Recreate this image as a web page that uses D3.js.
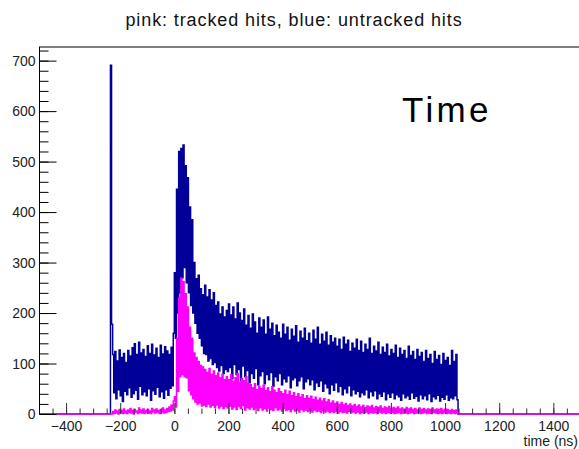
<!DOCTYPE html>
<html>
<head>
<meta charset="utf-8">
<script src="https://cdn.jsdelivr.net/npm/d3@7"></script>
<style>
  html, body { margin: 0; padding: 0; background: #fff; }
  svg { display: block; }
  text { font-family: "Liberation Sans", Arial, Helvetica, sans-serif; }
</style>
</head>
<body>
<svg id="chart" width="579" height="449"></svg>
<script>
// Histogram binning (ns)
const binLow = -236;
const binWidth = 4;
const timeRange = [-500, 1500];
const countRange = [0, 727];

// Untracked hits per bin (blue)
const untracked = [
  691, 178,
  118, 42, 124, 30, 105, 48, 127, 36, 112, 25,
  120, 45, 102, 38, 126, 52, 115, 33, 131, 40,
  139, 47, 118, 29, 142, 55, 121, 38, 128, 44,
  114, 36, 135, 50, 120, 27, 138, 46, 117, 39,
  130, 53, 112, 34, 136, 44, 119, 31, 133, 48,
  125, 37, 118, 51, 132, 56, 160,
  280, 150, 445, 200, 520, 240, 526, 270, 533, 290, 492, 260, 468, 240, 410, 215,
  385, 200, 300, 180, 268, 160, 275, 150, 248, 135, 236, 120, 255, 118, 232, 105,
  246, 110, 226, 98, 240, 102, 215, 92, 222, 85, 198, 96, 212, 80, 192, 88,
  205, 84, 218, 92, 196, 70, 212, 98, 188, 78, 220, 88, 200, 66, 185, 95,
  208, 74, 176, 86, 195, 62, 170, 80, 198, 71, 182, 90, 160, 58, 190, 76,
  172, 84, 186, 60, 158, 78, 192, 68, 168, 82, 180, 55, 155, 74, 176, 66,
  162, 80, 150, 58, 178, 70, 158, 64, 172, 76, 146, 52, 168, 68, 154, 72,
  175, 56, 142, 66, 164, 74, 150, 50, 170, 64, 145, 70, 160, 58, 140, 68,
  166, 48, 148, 62, 172, 55, 138, 66, 158, 45, 144, 60, 162, 52, 136, 40,
  155, 58, 142, 47, 150, 62, 134, 44, 148, 55, 128, 38, 152, 50, 138, 42,
  146, 56, 124, 36, 140, 48, 130, 40, 148, 45, 126, 34, 144, 42, 122, 38,
  138, 48, 128, 32, 150, 44, 120, 36, 134, 46, 125, 30, 142, 40, 118, 35,
  132, 44, 122, 28, 138, 40, 115, 33, 128, 42, 120, 30, 136, 38, 112, 34,
  130, 27, 118, 40, 126, 32, 110, 36, 134, 29, 116, 42, 124, 31, 108, 35,
  128, 26, 114, 38, 122, 30, 104, 36, 126, 28, 110, 40, 118, 25, 100, 34,
  124, 30, 108, 37, 116, 26, 98, 33, 120, 29, 106, 38, 112, 27, 96, 32,
  126, 30, 104, 36, 118, 28
];

// Tracked hits per bin (pink)
const tracked = [
  0, 0,
  5, 1, 8, 2, 6, 0, 9, 3, 7, 1,
  10, 2, 6, 1, 8, 3, 11, 2, 7, 0,
  9, 4, 6, 1, 12, 3, 8, 2, 10, 1,
  7, 3, 9, 2, 6, 1, 11, 4, 8, 2,
  10, 3, 7, 1, 9, 4, 12, 2, 8, 3,
  11, 5, 14, 6, 18, 8, 26,
  34, 14, 150, 45, 230, 74, 269, 78, 262, 74, 238, 72, 212, 46, 172, 38,
  150, 30, 121, 24, 112, 20, 104, 22, 96, 16, 93, 18, 88, 15, 82, 20,
  90, 14, 78, 17, 85, 13, 76, 18, 81, 12, 72, 16, 78, 11, 68, 15,
  74, 12, 68, 16, 78, 10, 65, 14, 72, 9, 80, 15, 63, 11, 70, 17,
  66, 8, 74, 13, 61, 10, 58, 14, 52, 9, 60, 12, 48, 7, 55, 13,
  50, 8, 57, 11, 46, 6, 52, 12, 44, 9, 54, 7, 47, 13, 42, 8,
  50, 10, 44, 6, 40, 11, 47, 7, 38, 9, 45, 5, 36, 10, 42, 6,
  34, 8, 40, 4, 33, 9, 38, 6, 30, 8, 36, 5, 31, 7, 35, 4,
  28, 8, 33, 5, 27, 6, 31, 3, 26, 7, 30, 4, 24, 6, 28, 3,
  22, 5, 26, 3, 21, 6, 24, 2, 19, 5, 23, 3, 18, 4, 21, 2,
  17, 5, 20, 3, 16, 4, 19, 2, 15, 4, 18, 1, 14, 3, 17, 2,
  13, 4, 16, 1, 14, 3, 17, 2, 12, 3, 15, 1, 13, 4, 16, 2,
  11, 3, 14, 1, 12, 3, 15, 2, 10, 3, 13, 1, 11, 2, 14, 3,
  10, 1, 12, 2, 9, 3, 13, 1, 10, 2, 12, 3, 9, 1, 11, 2,
  8, 3, 12, 1, 9, 2, 11, 3, 8, 1, 10, 2, 9, 1, 12, 3,
  8, 2, 10, 1, 9, 2, 11, 1, 8, 3, 10, 1, 9, 2, 7, 1,
  9, 2, 7, 1, 8, 2
];

// Axis ticks
const yTicks = [0, 100, 200, 300, 400, 500, 600, 700];
const yMinorTicks = d3.range(0, 721, 20);
const xTicks = [-400, -200, 0, 200, 400, 600, 800, 1000, 1200, 1400];
const xMinorTicks = d3.range(-450, 1500, 50);

const titleText = "pink: tracked hits, blue: untracked hits";
const xTitle = "time (ns)";
const panelLabel = "Time";

const svg = d3.select("#chart");
const padL = 39, padR = 580.4, padT = 47, padB = 414;

const x = d3.scaleLinear().domain(timeRange).range([padL, padR]);
const y = d3.scaleLinear().domain(countRange).range([padB, padT]);

svg.append("defs").append("clipPath").attr("id", "plotclip")
  .append("rect").attr("x", padL).attr("y", padT - 1)
  .attr("width", padR - padL).attr("height", padB - padT + 3);

// Step outline of a histogram, flat at zero outside its bins
function stepPoints(vals) {
  const pts = [[timeRange[0], 0], [binLow, 0]];
  vals.forEach((v, i) => {
    const a = binLow + i * binWidth;
    pts.push([a, v], [a + binWidth, v]);
  });
  pts.push([binLow + vals.length * binWidth, 0], [timeRange[1], 0]);
  return pts;
}
const line = d3.line().x(d => x(d[0])).y(d => y(d[1]));

const plot = svg.append("g").attr("clip-path", "url(#plotclip)");
plot.append("path").datum(stepPoints(untracked))
  .attr("d", line).attr("fill", "none")
  .attr("stroke", "#000099").attr("stroke-width", 1.5);
plot.append("path").datum(stepPoints(tracked))
  .attr("d", line).attr("fill", "none")
  .attr("stroke", "#ff00ff").attr("stroke-width", 1.5);

// Frame top edge
svg.append("line").attr("x1", padL).attr("x2", padR)
  .attr("y1", padT).attr("y2", padT)
  .attr("stroke", "#000").attr("stroke-width", 1);

const fmt = d3.format("d");

// Y axis
const yMinor = d3.axisLeft(y).tickValues(yMinorTicks).tickFormat("")
  .tickSizeInner(-9).tickSizeOuter(0);
const yMajor = d3.axisLeft(y).tickValues(yTicks).tickFormat(fmt)
  .tickSizeInner(-17).tickSizeOuter(0).tickPadding(4);
svg.append("g").attr("transform", `translate(${padL + 0.5},0)`).call(yMinor)
  .call(g => g.select(".domain").remove());
const gy = svg.append("g").attr("transform", `translate(${padL + 0.5},0)`).call(yMajor);
gy.select(".domain").attr("d", `M0,${padT}V${padB}`).attr("stroke", "#000");
gy.selectAll("text").attr("font-size", 14).attr("fill", "#222")
  .attr("font-family", "'Liberation Sans', Arial, sans-serif");

// X axis
const xMinor = d3.axisBottom(x).tickValues(xMinorTicks).tickFormat("")
  .tickSizeInner(-5.5).tickSizeOuter(0);
const xMajor = d3.axisBottom(x).tickValues(xTicks).tickFormat(fmt)
  .tickSizeInner(-11).tickSizeOuter(0).tickPadding(7);
svg.append("g").attr("transform", `translate(0,${padB})`).call(xMinor)
  .call(g => g.select(".domain").remove())
  .selectAll("line").attr("stroke", "#333");
const gx = svg.append("g").attr("transform", `translate(0,${padB})`).call(xMajor);
gx.select(".domain").remove();
gx.selectAll("line").attr("stroke", "#333");
gx.selectAll("text").attr("font-size", 14).attr("fill", "#222")
  .attr("font-family", "'Liberation Sans', Arial, sans-serif");

// Titles
svg.append("text").attr("x", 294).attr("y", 26)
  .attr("text-anchor", "middle").attr("font-size", 18)
  .attr("letter-spacing", 0.9).attr("fill", "#111")
  .text(titleText);
svg.append("text").attr("x", 578).attr("y", 446)
  .attr("text-anchor", "end").attr("font-size", 14).attr("fill", "#222")
  .text(xTitle);
svg.append("text").attr("x", 402).attr("y", 122)
  .attr("font-family", "'Open Sans', sans-serif")
  .attr("font-size", 35).attr("letter-spacing", 3.3).attr("fill", "#000")
  .text(panelLabel);
</script>
</body>
</html>
